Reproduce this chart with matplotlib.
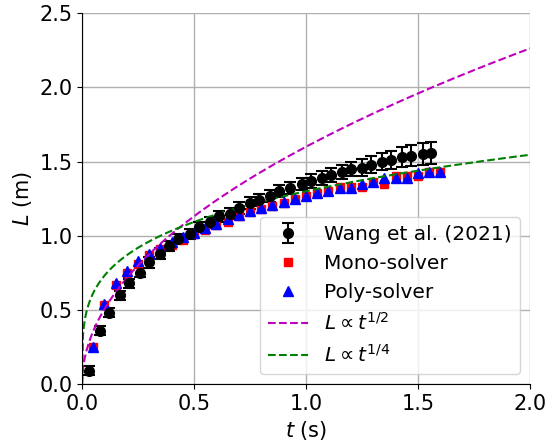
import matplotlib.pyplot as plt
import numpy as np

# Wang et al. (2021) experiment
wang_t = [0.03, 0.08, 0.12, 0.17, 0.21, 0.26, 0.30, 0.35, 0.39, 0.43,
          0.48, 0.52, 0.57, 0.61, 0.66, 0.70, 0.75, 0.79, 0.84, 0.88,
          0.93, 0.98, 1.02, 1.07, 1.11, 1.16, 1.20, 1.25, 1.29, 1.34,
          1.38, 1.43, 1.47, 1.52, 1.56]
wang_L = [0.09, 0.36, 0.48, 0.60, 0.68, 0.75, 0.82, 0.88, 0.93, 0.98,
          1.01, 1.06, 1.09, 1.13, 1.15, 1.19, 1.22, 1.24, 1.27, 1.30,
          1.32, 1.35, 1.37, 1.39, 1.41, 1.43, 1.45, 1.46, 1.48, 1.50,
          1.51, 1.53, 1.54, 1.55, 1.56]
wang_err = [0.03, 0.03, 0.03, 0.03, 0.03, 0.03, 0.035, 0.035, 0.035, 0.035,
            0.035, 0.035, 0.035, 0.04, 0.04, 0.04, 0.04, 0.04, 0.04, 0.04,
            0.04, 0.04, 0.045, 0.045, 0.045, 0.05, 0.05, 0.055, 0.055, 0.06,
            0.06, 0.065, 0.07, 0.075, 0.075]

# simulations
sim_t = [0.05, 0.10, 0.15, 0.20, 0.25, 0.30, 0.35, 0.40, 0.45, 0.50,
         0.55, 0.60, 0.65, 0.70, 0.75, 0.80, 0.85, 0.90, 0.95, 1.00,
         1.05, 1.10, 1.15, 1.20, 1.25, 1.30, 1.35, 1.40, 1.45, 1.50,
         1.55, 1.60]
mono_L = [0.25, 0.53, 0.67, 0.75, 0.81, 0.87, 0.91, 0.94, 0.97, 1.01,
          1.04, 1.07, 1.095, 1.13, 1.16, 1.18, 1.20, 1.22, 1.25, 1.265,
          1.29, 1.30, 1.33, 1.33, 1.33, 1.36, 1.35, 1.40, 1.40, 1.40,
          1.43, 1.43]
poly_L = [0.25, 0.54, 0.68, 0.76, 0.83, 0.88, 0.92, 0.96, 0.99, 1.02,
          1.05, 1.08, 1.11, 1.14, 1.17, 1.19, 1.21, 1.23, 1.25, 1.27,
          1.29, 1.30, 1.32, 1.32, 1.35, 1.36, 1.39, 1.39, 1.39, 1.42,
          1.43, 1.43]

# power-law reference curves
coef_half = 1.6
coef_quarter = 1.3
t = np.linspace(0, 2, 500)

plt.rcParams['font.size'] = 15

fig = plt.figure(figsize=(5.47, 4.41), dpi=100)
ax = fig.add_axes([0.150, 0.129, 0.819, 0.841])

h_wang = ax.errorbar(wang_t, wang_L, yerr=wang_err, fmt='ko', markersize=7,
                     capsize=4, elinewidth=1.5, capthick=1.5, label='Wang et al. (2021)')
h_mono, = ax.plot(sim_t, mono_L, 'rs', markersize=6, label='Mono-solver')
h_poly, = ax.plot(sim_t, poly_L, 'b^', markersize=6.5, label='Poly-solver')
h_half, = ax.plot(t, coef_half * t ** 0.5, 'm--', linewidth=1.5, label=r'$L \propto t^{1/2}$')
h_quarter, = ax.plot(t, coef_quarter * t ** 0.25, 'g--', linewidth=1.5, label=r'$L \propto t^{1/4}$')

ax.set_xlim(0, 2)
ax.set_ylim(0, 2.5)
ax.set_xticks([0.0, 0.5, 1.0, 1.5, 2.0])
ax.set_yticks([0.0, 0.5, 1.0, 1.5, 2.0, 2.5])
ax.set_xlabel(r'$t$ (s)')
ax.set_ylabel(r'$L$ (m)')
ax.grid(True, linewidth=1)
ax.spines['top'].set_visible(False)
ax.spines['right'].set_visible(False)
ax.legend(handles=[h_wang, h_mono, h_poly, h_half, h_quarter],
          loc='lower right', fontsize=14.5, labelspacing=0.5)

fig.savefig('out.png', dpi=100)
